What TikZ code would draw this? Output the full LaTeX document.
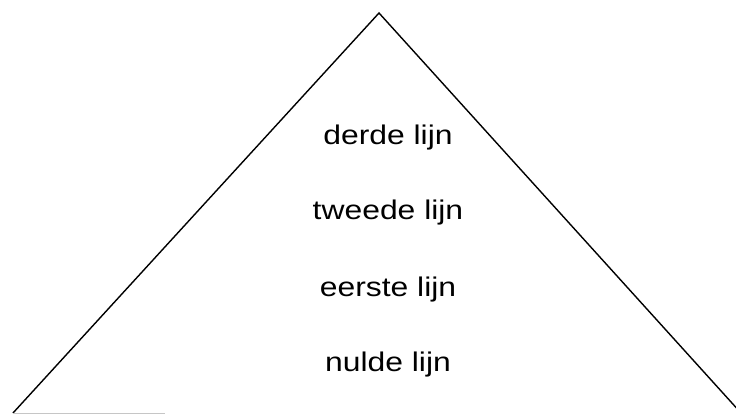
\documentclass[tikz,border=0pt]{standalone}
\usepackage{fontspec}
\setmainfont{Liberation Sans}
\begin{document}
\begin{tikzpicture}[x=1pt,y=1pt,
  lbl/.style={inner sep=0pt, font=\fontsize{27}{32}\selectfont},
  edge/.style={line width=1.4pt, line join=miter}]
\useasboundingbox (0,0) rectangle (736,415);
\clip (0,0) rectangle (736,415);
\coordinate (apex) at (379,402);
\coordinate (bl) at (13,2);
\coordinate (br) at (741,2);
\coordinate (be) at (165,2);
\draw[edge] (bl) -- (apex) -- (br);
\draw[gray!45, line width=0.8pt] (bl) -- (be);
\node[lbl] (l3) at (388,277) {\scalebox{1.18}[1]{derde lijn}};
\node[lbl] (l2) at (388,202) {\scalebox{1.18}[1]{tweede lijn}};
\node[lbl] (l1) at (388,125) {\scalebox{1.18}[1]{eerste lijn}};
\node[lbl] (l0) at (388,50) {\scalebox{1.18}[1]{nulde lijn}};
\end{tikzpicture}
\end{document}
